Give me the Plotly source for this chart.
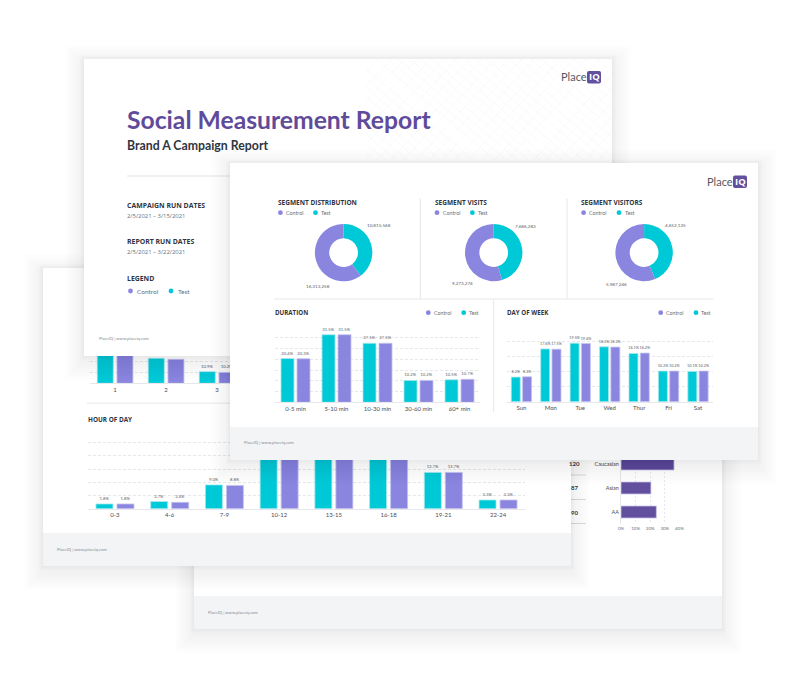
import plotly.graph_objects as go

W, H = 800, 688

# ---------- data ----------
donut_labels = ["Test", "Control"]
seg_distribution = [10815568, 16313258]
seg_visits = [7686283, 9273274]
seg_visitors = [4652125, 5987246]

duration_cats = ["0-5 min", "5-10 min", "10-30 min", "30-60 min", "60+ min"]
duration_test = [20.4, 31.5, 27.5, 10.2, 10.5]
duration_control = [20.3, 31.5, 27.5, 10.2, 10.7]

dow_cats = ["Sun", "Mon", "Tue", "Wed", "Thur", "Fri", "Sat"]
dow_test = [8.2, 17.6, 19.5, 18.3, 16.1, 10.2, 10.1]
dow_control = [8.3, 17.5, 19.4, 18.2, 16.2, 10.2, 10.2]

hour_cats = ["0-3", "4-6", "7-9", "10-12", "13-15", "16-18", "19-21", "22-24"]
hour_test = [1.8, 2.7, 9.0, 24.0, 24.0, 24.0, 13.7, 3.3]
hour_control = [1.8, 2.4, 8.8, 24.0, 24.0, 24.0, 13.7, 3.3]

freq_cats = ["1", "2", "3"]
freq_test = [30.0, 23.4, 10.9]
freq_control = [30.0, 22.5, 10.2]

race_cats = ["AA", "Asian", "Caucasian"]
race_values = [24.2, 20.5, 36.3]

# ---------- styles ----------
TEAL = "#00C9D7"
PURPLE = "#8A86E0"
DARKP = "#624F9E"
INK = "#2F3542"
GRAY = "#6B7078"
FAINT = "#8A8E96"
FOOT = "#F3F4F6"
GRID = "#E6E7EA"
SANS = "Open Sans"
LABEL = "Lato"

fig = go.Figure()
shapes, notes = [], []


def fx(x):
    return x / W


def fy(y):
    return 1 - y / H


def page_axes(n):
    s = "" if n == 1 else str(n)
    fig.update_layout({
        f"xaxis{s}": dict(domain=[0, 1], range=[0, W], visible=False, anchor=f"y{s}"),
        f"yaxis{s}": dict(domain=[0, 1], range=[H, 0], visible=False, anchor=f"x{s}"),
    })
    fig.add_trace(go.Scatter(x=[None], y=[None], xaxis=f"x{s}", yaxis=f"y{s}", mode="markers",
                             hoverinfo="skip"))
    return ("x" + s, "y" + s)


def rect(ref, x0, y0, x1, y1, fill, line=None, lw=0):
    shapes.append(dict(type="rect", xref=ref[0], yref=ref[1], x0=x0, y0=y0, x1=x1, y1=y1,
                       fillcolor=fill, line=dict(color=line or fill, width=lw), layer="between"))


def hline(ref, x0, x1, y, color=GRID, w=1):
    shapes.append(dict(type="line", xref=ref[0], yref=ref[1], x0=x0, x1=x1, y0=y, y1=y,
                       line=dict(color=color, width=w), layer="between"))


def vline(ref, x, y0, y1, color=GRID, w=1):
    shapes.append(dict(type="line", xref=ref[0], yref=ref[1], x0=x, x1=x, y0=y0, y1=y1,
                       line=dict(color=color, width=w), layer="between"))


def dot(ref, x, y, color, r=2.4):
    shapes.append(dict(type="circle", xref=ref[0], yref=ref[1], x0=x - r, x1=x + r, y0=y - r, y1=y + r,
                       fillcolor=color, line=dict(width=0), layer="between"))


def card(ref, x0, y0, x1, y1, foot_top=None):
    for i in range(14, 0, -1):
        e = 1.4 * i
        shapes.append(dict(type="rect", xref=ref[0], yref=ref[1], x0=x0 - e, y0=y0 - e + 5,
                           x1=x1 + e, y1=y1 + e + 5, fillcolor="rgba(0,0,0,0.0042)",
                           line=dict(width=0), layer="between"))
    for i in range(4, 0, -1):
        shapes.append(dict(type="rect", xref=ref[0], yref=ref[1], x0=x0 - i, y0=y0 - i,
                           x1=x1 + i, y1=y1 + i, fillcolor="rgba(0,0,0,0.006)",
                           line=dict(width=0), layer="between"))
    rect(ref, x0, y0, x1, y1, "#FFFFFF")
    if foot_top:
        rect(ref, x0, foot_top, x1, y1, FOOT)


def note(x, y, text, size=7, color=GRAY, anchor="left", weight="normal", family=LABEL):
    notes.append(dict(x=fx(x), y=fy(y), xref="paper", yref="paper", text=text, showarrow=False,
                      xanchor=anchor, yanchor="middle", borderpad=0, borderwidth=0,
                      font=dict(size=size, color=color, family=family, weight=weight)))


def logo(ref, x0, y0):
    note(x0 + 26.5, y0 + 6, "Place", 11, "#55585F", anchor="right", family=LABEL)
    x1, x2, y1, y2 = x0 + 27, x0 + 41, y0, y0 + 12.5
    shapes.append(dict(type="path", xref=ref[0], yref=ref[1], layer="between",
                       path=f"M{x1+2},{y1} L{x2-2},{y1} Q{x2},{y1} {x2},{y1+2} L{x2},{y2-2} "
                            f"Q{x2},{y2} {x2-2},{y2} L{x1+2},{y2} Q{x1},{y2} {x1},{y2-2} "
                            f"L{x1},{y1+2} Q{x1},{y1} {x1+2},{y1} Z",
                       fillcolor=DARKP, line=dict(width=0)))
    note((x1 + x2) / 2, y0 + 6, "IQ", 9.5, "#FFFFFF", anchor="center", weight="bold", family=SANS)


def clip_line(x0, y0, slope, xa, xb, ya, yb):
    """End points of a hatch line inside the box xa..xb, ya..yb, or None."""
    pts = []
    for x in (xa, xb):
        y = y0 + slope * (x - x0)
        if ya <= y <= yb:
            pts.append((x, y))
    for y in (ya, yb):
        x = x0 + (y - y0) / slope
        if xa <= x <= xb:
            pts.append((x, y))
    return pts[:2] if len(pts) >= 2 else None


def bar_chart(n, cats, test, control, x0, x1, ybase, ytop, ymax, dtick, bw, gap, hidden=(), size=4.2):
    s = str(n)
    band = (x1 - x0) / len(cats)
    w = bw / band
    g = gap / band
    fig.update_layout({
        f"xaxis{s}": dict(domain=[fx(x0), fx(x1)], anchor=f"y{s}", type="category", categoryorder="array",
                          categoryarray=cats, showgrid=False, showline=True, linecolor=GRID, linewidth=1,
                          ticks="", tickfont=dict(size=6, color="#4A4E57", family=LABEL), zeroline=False),
        f"yaxis{s}": dict(domain=[fy(ybase), fy(ytop)], anchor=f"x{s}", range=[0, ymax], tick0=0, dtick=dtick,
                          showticklabels=False, ticks="", showgrid=True, gridcolor=GRID, griddash="3px,2px",
                          gridwidth=1, zeroline=False, showline=False),
    })
    for vals, col, edge, off in [(test, TEAL, "#A5E9EE", -(w + g / 2)), (control, PURPLE, "#C5C3F0", g / 2)]:
        labels = ["" if c in hidden else f"{v:.1f}%" for c, v in zip(cats, vals)]
        fig.add_trace(go.Bar(x=cats, y=vals, xaxis=f"x{s}", yaxis=f"y{s}", width=w, offset=off,
                             marker=dict(color=col, line=dict(color=edge, width=0.8)),
                             text=labels, textposition="outside", cliponaxis=False,
                             constraintext="none", textfont=dict(size=size, color="#5A5E66", family=LABEL),
                             hoverinfo="skip"))


# ---------- back card (race bars) ----------
p1 = page_axes(1)
card(p1, 194, 300, 722, 629, 596)
for yy in (475, 499.5, 523.5):
    hline(p1, 560, 586, yy, "#DADCE0")
note(208, 612, "PlaceIQ | www.placeiq.com", 4.2, FAINT)
note(579.5, 463, "120", 6, INK, anchor="right", weight="bold")
note(578, 487, "87", 6, INK, anchor="right", weight="bold")
note(578, 512, "90", 6, INK, anchor="right", weight="bold")

fig.update_layout(
    xaxis2=dict(domain=[fx(621), fx(679.4)], anchor="y2", range=[0, 40], tick0=0, dtick=10, ticksuffix="%",
                showgrid=True, gridcolor=GRID, griddash="2px,2px", zeroline=False, ticks="",
                tickfont=dict(size=4.5, color=GRAY, family=LABEL), showline=False),
    yaxis2=dict(domain=[fy(524), fy(452)], anchor="x2", type="category", categoryorder="array",
                categoryarray=race_cats, ticks="", tickfont=dict(size=5.5, color="#4A4E57", family=LABEL),
                showgrid=False, showline=True, linecolor=GRID, zeroline=False),
)
fig.add_trace(go.Bar(y=race_cats, x=race_values, orientation="h", xaxis="x2", yaxis="y2", width=0.5,
                     marker=dict(color=DARKP, line=dict(color="#C9C4E2", width=0.8)), hoverinfo="skip"))

# ---------- middle card (hour of day) ----------
p3 = page_axes(3)
card(p3, 43, 268, 571, 566, 533)
hline(p3, 87, 571, 403.3, "#EEEFF1", 1.5)
note(87.5, 419, "HOUR OF DAY", 6.4, INK, weight="bold", family=SANS)
note(57.3, 549.3, "PlaceIQ | www.placeiq.com", 4.2, FAINT)

bar_chart(4, freq_cats, freq_test, freq_control, 89.6, 242.6, 383.3, 351.3, 30, 10, 16, 3.7, hidden=("1",))
bar_chart(5, hour_cats, hour_test, hour_control, 87.6, 525.4, 508.7, 429.3, 30, 5, 17, 4,
          hidden=("10-12", "13-15", "16-18"))

# ---------- cover card ----------
p6 = page_axes(6)
card(p6, 84, 59, 612, 356)
BOX = (366, 612, 59.5, 160)
for k in range(-30, 60):
    for slope, step in ((0.85, 11), (-1.1, 13)):
        pts = clip_line(300 + k * step, 59.5, slope, *BOX)
        if pts:
            shapes.append(dict(type="line", xref=p6[0], yref=p6[1], x0=pts[0][0], y0=pts[0][1],
                               x1=pts[1][0], y1=pts[1][1], layer="between",
                               line=dict(color="#F5F5F7", width=0.7, dash="2px,1px")))
hline(p6, 127, 560, 176, "#E3E4E7")
dot(p6, 130.5, 291, PURPLE)
dot(p6, 171, 291, TEAL)
logo(p6, 560, 71)
note(127, 120, "Social Measurement Report", 24.7, "#5F4B9B", weight="bold", family=LABEL)
note(127, 146, "Brand A Campaign Report", 12.3, INK, weight="bold", family=LABEL)
note(127, 206, "CAMPAIGN RUN DATES", 6.9, INK, weight="bold", family=SANS)
note(127, 216, "2/5/2021 – 3/15/2021", 5.9, GRAY, family=SANS)
note(127, 242, "REPORT RUN DATES", 6.9, INK, weight="bold", family=SANS)
note(127, 252, "2/5/2021 – 3/22/2021", 5.9, GRAY, family=SANS)
note(127, 279, "LEGEND", 6.9, INK, weight="bold", family=SANS)
note(137, 291, "Control", 6.5, GRAY)
note(178, 291, "Test", 6.5, GRAY)
note(99, 338.7, "PlaceIQ | www.placeiq.com", 4.2, FAINT)

# ---------- front card ----------
p7 = page_axes(7)
card(p7, 230, 163, 758, 460, 427)
logo(p7, 706, 175.5)
vline(p7, 420.3, 198.5, 299)
vline(p7, 567, 198.5, 299)
hline(p7, 274, 713.4, 299)
vline(p7, 493.7, 299, 412)

bar_chart(8, duration_cats, duration_test, duration_control, 275, 480, 402.3, 327.2, 35, 5, 13, 3)
bar_chart(9, dow_cats, dow_test, dow_control, 506.7, 712.7, 401.7, 326.7, 25, 5, 9, 2.3, size=3.8)

R = 28.7
for vals, cx, cy in [(seg_distribution, 343.6, 252.6), (seg_visits, 493.7, 252.6), (seg_visitors, 644.1, 252.6)]:
    fig.add_trace(go.Pie(labels=donut_labels, values=vals, hole=0.5, sort=False, direction="clockwise",
                         rotation=0, textinfo="none", hoverinfo="skip",
                         marker=dict(colors=[TEAL, PURPLE], line=dict(width=0)),
                         domain=dict(x=[fx(cx - R), fx(cx + R)], y=[fy(cy + R), fy(cy - R)])))

for title, tx, dx1, tx1, dx2, tx2 in [("SEGMENT DISTRIBUTION", 277.7, 280.4, 285.8, 315.5, 320.6),
                                      ("SEGMENT VISITS", 434.5, 437, 443, 472.4, 478),
                                      ("SEGMENT VISITORS", 581, 583.6, 589, 619, 625)]:
    note(tx, 202, title, 6.5, INK, weight="bold", family=SANS)
    dot(p7, dx1, 212.7, PURPLE)
    dot(p7, dx2, 212.7, TEAL)
    note(tx1, 212.7, "Control", 5.3, GRAY)
    note(tx2, 212.7, "Test", 5.3, GRAY)

for cx, cy, v in [(378.7, 225, seg_distribution[0]), (317.6, 286, seg_distribution[1]),
                  (525, 226, seg_visits[0]), (462, 283.4, seg_visits[1]),
                  (675, 225, seg_visitors[0]), (616.7, 283.6, seg_visitors[1])]:
    note(cx, cy, f"{v:,}", 4.6, "#5A5E66", anchor="center")

for title, tx, d1, t1, d2, t2 in [("DURATION", 275, 428.3, 434, 463.7, 469),
                                  ("DAY OF WEEK", 506.7, 660.7, 666, 696, 701)]:
    note(tx, 312.7, title, 6.2, INK, weight="bold", family=SANS)
    dot(p7, d1, 312.7, PURPLE)
    dot(p7, d2, 312.7, TEAL)
    note(t1, 312.7, "Control", 5.3, GRAY)
    note(t2, 312.7, "Test", 5.3, GRAY)

note(244, 442.7, "PlaceIQ | www.placeiq.com", 4.2, FAINT)

fig.update_layout(
    width=W, height=H, margin=dict(l=0, r=0, t=0, b=0, pad=0, autoexpand=False),
    paper_bgcolor="#FFFFFF", plot_bgcolor="rgba(0,0,0,0)", showlegend=False, barmode="overlay",
    hovermode=False, shapes=shapes, annotations=notes,
)

fig.write_html("out.html", config=dict(displayModeBar=False),
               post_script="document.body.style.margin='0';document.body.style.overflow='hidden';")
